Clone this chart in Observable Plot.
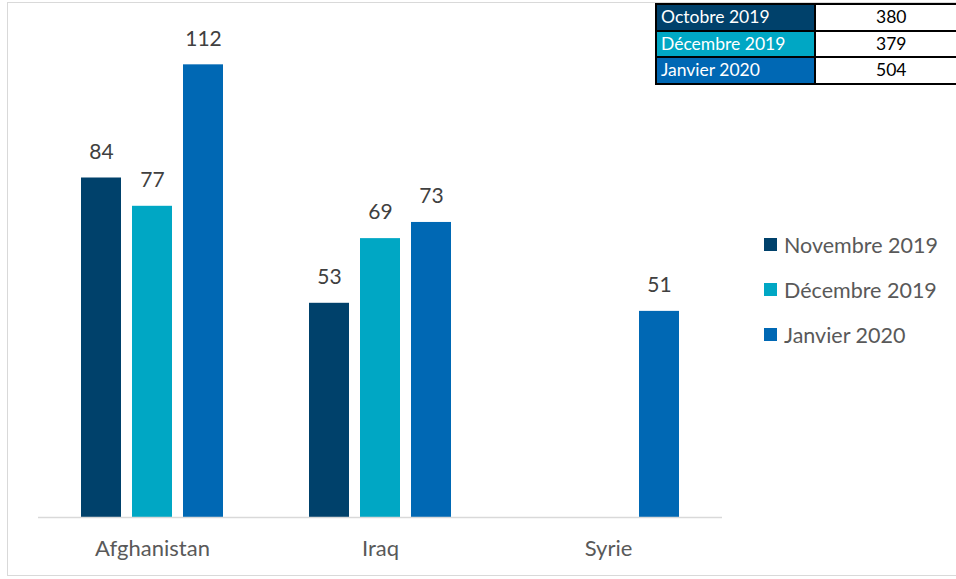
<!DOCTYPE html>
<html>
<head>
<meta charset="utf-8">
<script src="https://cdn.jsdelivr.net/npm/d3@7"></script>
<script src="https://cdn.jsdelivr.net/npm/@observablehq/plot@0.6"></script>
<style>
  html, body { margin: 0; padding: 0; background: #fff; }
  #wrap { position: relative; width: 956px; height: 579px; overflow: hidden; font-family: Lato, "Open Sans", sans-serif; }
  #frame { position: absolute; left: 7px; top: 2px; width: 960px; height: 574px; border: 1.5px solid #d9d9d9; box-sizing: border-box; }
  #chart { position: absolute; left: 0; top: 0; }
  #legend { position: absolute; left: 764px; top: 222px; }
  .lg { display: flex; align-items: center; height: 45px; font-size: 21.5px; color: #595959; }
  .lg .sw { width: 13px; height: 13px; margin-right: 7px; }
  #tbl { position: absolute; left: 655px; top: 3px; border-collapse: collapse; table-layout: fixed; font-size: 17.5px; width: 320px; }
  #tbl td { border: 2px solid #000; height: 26.5px; padding: 0; line-height: 24px; box-sizing: border-box; overflow: hidden; white-space: nowrap; }
  #tbl td.lab { width: 159px; color: #fff; padding-left: 4px; }
  #tbl td.val { width: 161px; text-align: left; padding-left: 60px; color: #000; border-right: none; }
</style>
</head>
<body>
<div id="wrap">
  <div id="frame"></div>
  <div id="chart"></div>
  <table id="tbl"></table>
  <div id="legend"></div>
</div>
<script>
const countries = ["Afghanistan", "Iraq", "Syrie"];
const series = ["Novembre 2019", "Décembre 2019", "Janvier 2020"];
const novembre2019 = [84, 53, null];
const decembre2019 = [77, 69, null];
const janvier2020 = [112, 73, 51];
const colors = ["#00416B", "#00A7C4", "#0068B4"];

const tableLabels = ["Octobre 2019", "Décembre 2019", "Janvier 2020"];
const tableValues = [380, 379, 504];
const tableColors = ["#00416B", "#00A7C4", "#0068B4"];

const valuesBySeries = [novembre2019, decembre2019, janvier2020];
const data = [];
countries.forEach((c, i) => {
  series.forEach((s, j) => {
    data.push({country: c, series: s, value: valuesBySeries[j][i]});
  });
});
const present = data.filter(d => d.value != null);

const chart = Plot.plot({
  width: 956,
  height: 579,
  marginLeft: 37,
  marginRight: 234,
  marginTop: 32,
  marginBottom: 62,
  style: {fontFamily: "Lato, 'Open Sans', sans-serif", background: "transparent"},
  fx: {domain: countries, padding: 0, label: null},
  x: {domain: series, paddingInner: 0.22, paddingOuter: 0.82, axis: null},
  y: {domain: [0, 120], axis: null},
  color: {domain: series, range: colors},
  marks: [
    Plot.axisFx({anchor: "bottom", tickSize: 0, tickPadding: 23, fontSize: 22, fill: "#595959", label: null}),
    Plot.barY(present, {fx: "country", x: "series", y: "value", fill: "series"}),
    Plot.ruleY([0], {stroke: "#d9d9d9", strokeWidth: 1.5}),
    Plot.text(present, {fx: "country", x: "series", y: "value", text: d => String(d.value), dy: -26, fontSize: 21, fill: "#404040"})
  ]
});
document.getElementById("chart").appendChild(chart);

const tbl = d3.select("#tbl");
tableLabels.forEach((l, i) => {
  const tr = tbl.append("tr");
  tr.append("td").attr("class", "lab").style("background", tableColors[i]).text(l);
  tr.append("td").attr("class", "val").text(tableValues[i]);
});

const lg = d3.select("#legend");
series.forEach((s, i) => {
  const row = lg.append("div").attr("class", "lg");
  row.append("div").attr("class", "sw").style("background", colors[i]);
  row.append("span").text(s);
});
</script>
</body>
</html>
